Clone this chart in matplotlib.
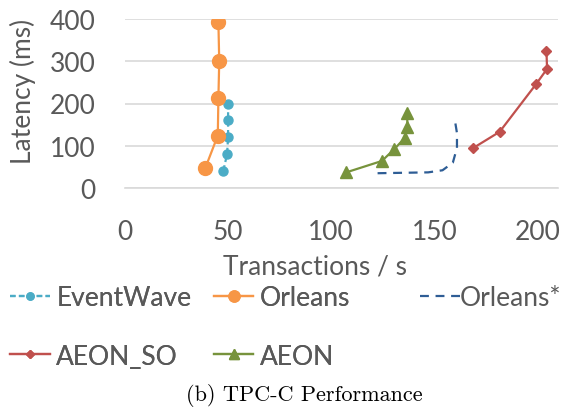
import matplotlib
matplotlib.use("Agg")
import matplotlib.pyplot as plt

# data (throughput tx/s, latency ms)
eventwave_x = [47.7, 49.5, 50, 50, 50]
eventwave_y = [41, 80, 120, 160, 200]
orleans_x = [39, 45, 45.3, 45.7, 45.3]
orleans_y = [48, 124, 213, 300, 392]
orleans_star_x = [122.5, 135, 147, 154, 159, 161, 161, 160]
orleans_star_y = [35, 36, 37, 42, 60, 95, 130, 160]
aeon_so_x = [169, 181.7, 199.4, 204.7, 204.4]
aeon_so_y = [95, 133, 246, 282, 324]
aeon_x = [107.3, 124.6, 130.6, 135.6, 137, 136.8]
aeon_y = [37, 64, 92, 118, 145, 177]

x_ticks = [0, 50, 100, 150, 200]
y_ticks = [0, 100, 200, 300, 400]

grey = "#595959"
fs = 19
plt.rcParams['font.family'] = ['Lato', 'DejaVu Sans']

fig = plt.figure(figsize=(5.75, 4.10), dpi=100)
ax = fig.add_axes([125/575, 1 - 189/410, 433/575, 169/410])

l1, = ax.plot(eventwave_x, eventwave_y, color="#4bacc6", lw=1.6, dashes=(2.5, 1.5),
              marker="o", ms=6.5, label="EventWave")
l2, = ax.plot(orleans_x, orleans_y, color="#f79646", lw=1.6,
              marker="o", ms=10, label="Orleans")
l3, = ax.plot(orleans_star_x, orleans_star_y, color="#2e5d95", lw=1.6, dashes=(4, 3),
              label="Orleans*")
l4, = ax.plot(aeon_so_x, aeon_so_y, color="#c0504d", lw=1.6,
              marker="D", ms=5, label="AEON_SO")
l5, = ax.plot(aeon_x, aeon_y, color="#77933c", lw=1.6,
              marker="^", ms=9, label="AEON")

ax.set_xlim(0, 210)
ax.set_ylim(0, 400)
ax.set_xticks(x_ticks)
ax.set_yticks(y_ticks)
ax.grid(axis="y", color="#d9d9d9", lw=1.2)
ax.set_axisbelow(True)
for s in ["top", "right", "left"]:
    ax.spines[s].set_visible(False)
ax.spines["bottom"].set_color("#d9d9d9")
ax.spines["bottom"].set_linewidth(1.2)
ax.tick_params(length=0, labelsize=fs, labelcolor=grey)
ax.tick_params(axis="y", pad=21)
ax.tick_params(axis="x", pad=22)

ax.set_xlabel("Transactions / s", fontsize=fs, color=grey)
ax.xaxis.set_label_coords(0.439, -0.39)
ax.set_ylabel("Latency (ms)", fontsize=fs, color=grey)
ax.yaxis.set_label_coords(-0.205, 0.58)

# legend: two columns on the left, Orleans* alone on the right
leg_a = fig.legend([l1, l4, l2, l5], ["EventWave", "AEON_SO", "Orleans", "AEON"],
                   ncol=2, loc="upper left", bbox_to_anchor=(10/575, 1 - 286/410),
                   frameon=False, fontsize=fs, labelcolor=grey, handlelength=1.5,
                   handletextpad=0.25, columnspacing=0.85, labelspacing=1.27,
                   markerscale=0.8, borderpad=0, borderaxespad=0)
leg_b = fig.legend([l3], ["Orleans*"], loc="upper left",
                   bbox_to_anchor=(420/575, 1 - 286/410),
                   frameon=False, fontsize=fs, labelcolor=grey, handlelength=1.5,
                   handletextpad=0.0, borderpad=0, borderaxespad=0)
fig.add_artist(leg_a)

fig.text(0.53, 1 - 396/410, "(b) TPC-C Performance", family="cmr10",
         fontsize=16, ha="center", va="center", color="black")

fig.savefig("out.png", dpi=100)
